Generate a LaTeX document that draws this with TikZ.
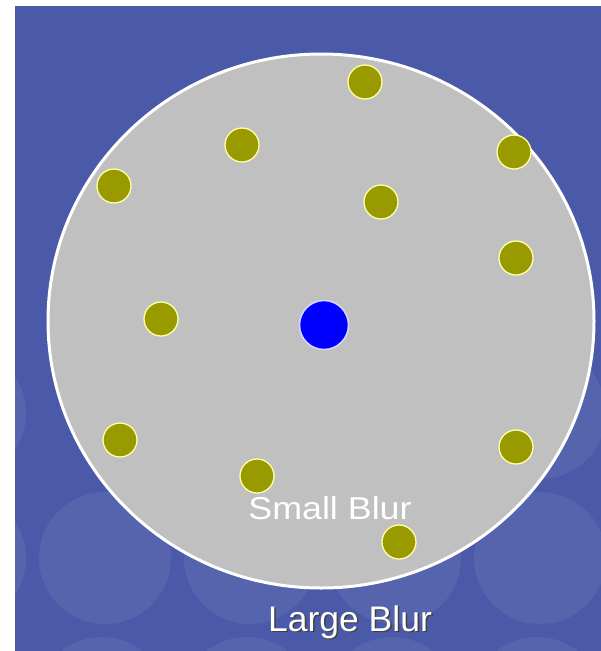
\documentclass[tikz,border=0pt]{standalone}
\usepackage{fontspec}
\setmainfont{Liberation Sans}
\usepackage{xcolor}
\definecolor{slidebg}{RGB}{74,89,168}
\definecolor{blurgrey}{RGB}{192,192,192}
\definecolor{olivedot}{RGB}{153,153,0}
\definecolor{paleedge}{RGB}{255,255,170}

\begin{document}
\begin{tikzpicture}[x=1pt,y=-1pt,
  sample/.style={circle,fill=olivedot,draw=paleedge,line width=1.3pt,minimum size=34pt,inner sep=0pt},
  bubble/.style={fill=white,fill opacity=0.07}]
\useasboundingbox (0,0) rectangle (601,651);
\fill[slidebg] (15,6) rectangle (601,651);
% faint bubbles behind the disc
\begin{scope}
\clip (15,6) rectangle (601,651);
\fill[bubble] (-40,413) circle (66);
\fill[bubble] (540,413) circle (66);
\fill[bubble] (-40,558) circle (66);
\fill[bubble] (105,558) circle (66);
\fill[bubble] (250,558) circle (66);
\fill[bubble] (395,558) circle (66);
\fill[bubble] (540,558) circle (66);
\fill[bubble] (102,703) circle (66);
\fill[bubble] (247,703) circle (66);
\fill[bubble] (392,703) circle (66);
\fill[bubble] (537,703) circle (66);
\end{scope}
% large blur disc
\draw[white,line width=3pt,fill=blurgrey] (321,321) ellipse [x radius=273,y radius=267];
\node[circle,fill=blue,draw=blue!15,line width=1.5pt,minimum size=49pt,inner sep=0pt] (pixel) at (324,325) {};
\node[sample] (s1) at (365,82) {};
\node[sample] (s2) at (242,145) {};
\node[sample] (s3) at (514,152) {};
\node[sample] (s4) at (114,186) {};
\node[sample] (s5) at (381,202) {};
\node[sample] (s6) at (516,258) {};
\node[sample] (s7) at (161,319) {};
\node[sample] (s8) at (120,440) {};
\node[sample] (s9) at (516,447) {};
\node[sample] (s10) at (257,476) {};
\node[sample] (s11) at (399,542) {};
\node[anchor=base,white,xscale=1.13,inner sep=0pt,font=\fontsize{31.7}{34}\selectfont] (small) at (330,519) {Small Blur};
\node[anchor=base,black!75,inner sep=0pt,font=\fontsize{35.5}{38}\selectfont] (largeshadow) at (351.5,632.5) {Large Blur};
\node[anchor=base,white,inner sep=0pt,font=\fontsize{35.5}{38}\selectfont] (large) at (350,631) {Large Blur};
\end{tikzpicture}
\end{document}
